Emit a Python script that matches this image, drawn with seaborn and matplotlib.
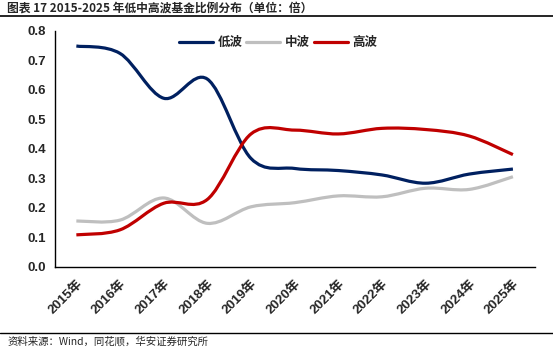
import matplotlib
matplotlib.use("Agg")
import matplotlib.pyplot as plt
import seaborn as sns
import pandas as pd
import numpy as np
from matplotlib.path import Path
from matplotlib.patches import PathPatch
from matplotlib.lines import Line2D

years = ["2015年", "2016年", "2017年", "2018年", "2019年", "2020年",
         "2021年", "2022年", "2023年", "2024年", "2025年"]
low = [0.748, 0.723, 0.571, 0.636, 0.367, 0.333, 0.326, 0.311, 0.283, 0.314, 0.331]
mid = [0.155, 0.158, 0.233, 0.147, 0.203, 0.217, 0.240, 0.237, 0.266, 0.262, 0.305]
high = [0.108, 0.125, 0.215, 0.228, 0.450, 0.463, 0.450, 0.469, 0.465, 0.443, 0.380]
series_names = ["低波", "中波", "高波"]
colors = ["#002060", "#BFBFBF", "#C00000"]
yticks = [0.0, 0.1, 0.2, 0.3, 0.4, 0.5, 0.6, 0.7, 0.8]

sns.set_style("white")
plt.rcParams["font.family"] = ["Liberation Sans", "Noto Sans CJK SC", "DejaVu Sans"]

df = pd.DataFrame({"x": list(range(len(years))) * 3,
                   "value": low + mid + high,
                   "series": [s for s in series_names for _ in years]})

fig = plt.figure(figsize=(5.53, 3.48), dpi=100)
ax = fig.add_axes([0.0986, 0.2336, 0.8684, 0.6782])

sns.lineplot(data=df, x="x", y="value", hue="series", hue_order=series_names,
             palette=colors, ax=ax, legend=False, linewidth=2.3, sort=False)


def smooth_path(xs, ys):
    pts = np.column_stack([xs, ys]).astype(float)
    n = len(pts)
    verts = [pts[0]]
    codes = [Path.MOVETO]
    for i in range(n - 1):
        p0 = pts[i - 1] if i > 0 else pts[i]
        p1 = pts[i]
        p2 = pts[i + 1]
        p3 = pts[i + 2] if i + 2 < n else pts[i + 1]
        c1 = p1 + (p2 - p0) / 6.0
        c2 = p2 - (p3 - p1) / 6.0
        verts += [c1, c2, p2]
        codes += [Path.CURVE4] * 3
    return Path(verts, codes)


for line in ax.get_lines():
    xs, ys = line.get_xdata(), line.get_ydata()
    patch = PathPatch(smooth_path(xs, ys), facecolor="none",
                      edgecolor=line.get_color(), lw=line.get_linewidth(),
                      capstyle="butt", joinstyle="round")
    ax.add_patch(patch)
    line.set_visible(False)

ax.set_xlim(-0.5, len(years) - 0.5)
ax.set_ylim(0, 0.8)
ax.set_yticks(yticks)
ax.set_yticklabels([f"{v:.1f}" for v in yticks], fontsize=9.5, fontweight="bold")
ax.set_xticks(range(len(years)))
ax.set_xticklabels(years, rotation=45, ha="right", rotation_mode="anchor",
                   fontsize=9.5, fontweight="bold")
ax.set_xticks(np.arange(-0.5, len(years), 1.0), minor=True)
ax.tick_params(axis="x", which="major", length=0, pad=8)
ax.tick_params(axis="x", which="minor", length=4, width=1, direction="out", color="black")
ax.tick_params(axis="y", length=4, width=1, direction="out", color="black", pad=2)
ax.set_xlabel("")
ax.set_ylabel("")
for s in ["top", "right"]:
    ax.spines[s].set_visible(False)
for s in ["left", "bottom"]:
    ax.spines[s].set_color("black")
    ax.spines[s].set_linewidth(1)

handles = [Line2D([0], [0], color=c, lw=2.3) for c in colors]
ax.legend(handles, series_names, loc="upper center", bbox_to_anchor=(0.466, 1.025),
          ncol=3, frameon=False, handlelength=2.7, handletextpad=0.4,
          columnspacing=0.3, prop={"family": ["Noto Sans CJK SC"], "weight": "bold", "size": 9})

fig.text(0.013, 0.977, "图表 17 2015-2025 年低中高波基金比例分布（单位：倍）",
         fontsize=8.5, fontweight="bold", va="center", ha="left",
         family=["Noto Sans CJK SC", "DejaVu Sans"])
fig.add_artist(Line2D([0, 1], [0.953, 0.953], color="black", lw=1.2, transform=fig.transFigure))
fig.add_artist(Line2D([0, 1], [0.043, 0.043], color="black", lw=1.0, transform=fig.transFigure))
fig.text(0.013, 0.018, "资料来源：Wind，同花顺，华安证券研究所",
         fontsize=7.5, va="center", ha="left", family=["Noto Sans CJK SC", "DejaVu Sans"])

fig.savefig("out.png", dpi=100)
